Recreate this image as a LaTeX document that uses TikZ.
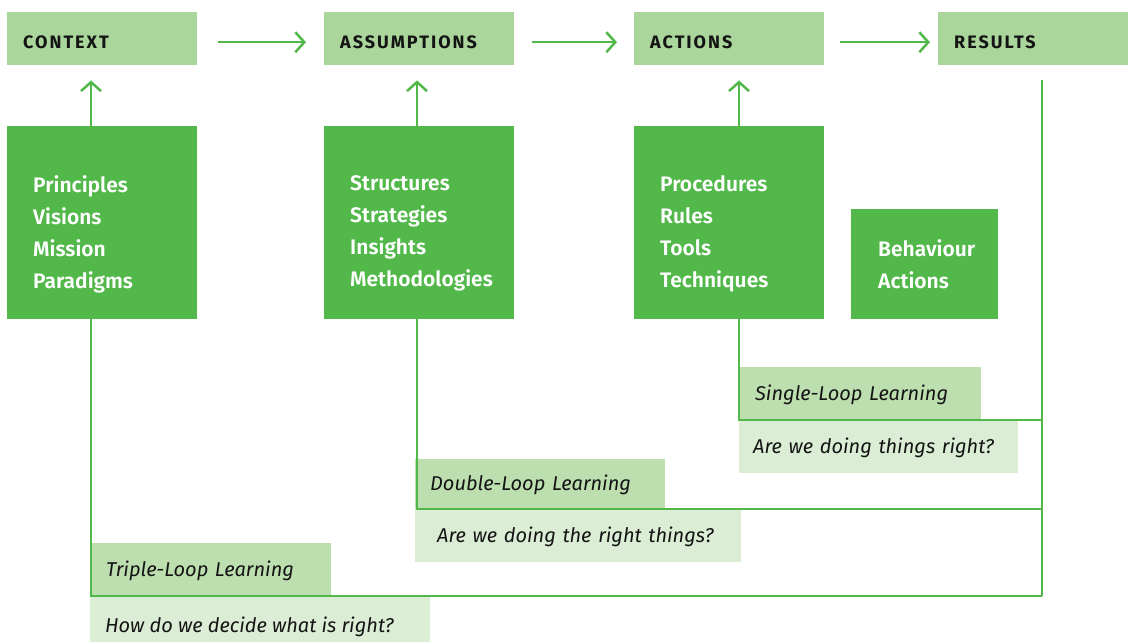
\documentclass[tikz,border=0pt]{standalone}
\usepackage{fontspec}
\setmainfont{Fira Sans}
\newfontfamily\semib{Fira Sans SemiBold}
\usetikzlibrary{arrows.meta}
\definecolor{hdr}{HTML}{AAD69B}
\definecolor{dark}{HTML}{52B84A}
\definecolor{lblA}{HTML}{BDDEAE}
\definecolor{lblB}{HTML}{DCEDD5}
\definecolor{ink}{HTML}{141414}
\begin{document}
\begin{tikzpicture}[x=1pt,y=-1pt,
  hdrbox/.style={fill=hdr, anchor=north west, minimum width=190pt, minimum height=53pt,
    text width=158pt, inner xsep=16pt, inner ysep=0pt, align=left, text=ink,
    text height=19.5pt, text depth=0pt,
    font=\fontsize{18}{20}\selectfont\bfseries\addfontfeatures{LetterSpace=11}},
  darkbox/.style={fill=dark, anchor=north west, minimum width=190pt, minimum height=193pt, inner sep=0pt},
  whitetext/.style={anchor=north west, inner sep=0pt, align=left, text=white,
    font=\semib\fontsize{21}{32}\selectfont},
  lblbox/.style={anchor=north west, minimum height=53pt, inner ysep=0pt, align=left, text=ink,
    text height=17.5pt, text depth=4.5pt,
    font=\itshape\fontsize{20}{24}\selectfont},
  lbltext/.style={anchor=west, inner sep=0pt, text=ink, font=\itshape\fontsize{20}{24}\selectfont},
  loop/.style={draw=dark, line width=2.5pt},
  arr/.style={draw=dark, line width=2.5pt, -{Straight Barb[length=9pt,width=20pt]}}
]
\useasboundingbox (0,0) rectangle (1133,642);

% x positions of the vertical connectors
\coordinate (cx) at (91,0);
\coordinate (bx) at (417,0);
\coordinate (ax) at (739,0);
\coordinate (rx) at (1042,0);
\coordinate (single) at (1042,420);
\coordinate (double) at (1042,509);
\coordinate (triple) at (1042,596);

% header boxes
\node[hdrbox] (context) at (7,12) {CONTEXT};
\node[hdrbox] (assump) at (324,12) {ASSUMPTIONS};
\node[hdrbox] (actions) at (634,12) {ACTIONS};
\node[hdrbox] (results) at (938,12) {RESULTS};

% dark boxes
\node[darkbox] (princ) at (7,126) {};
\node[darkbox] (struct) at (324,126) {};
\node[darkbox] (proc) at (634,126) {};
\node[darkbox, minimum width=147pt, minimum height=110pt] (behav) at (851,209) {};

\node[whitetext] (princT) at (33,175) {Principles\\Visions\\Mission\\Paradigms};
\node[whitetext] (structT) at (350,175) {Structures\\Strategies\\Insights\\Methodologies};
\node[whitetext] (procT) at (660,175) {Procedures\\Rules\\Tools\\Techniques};
\node[whitetext] (behavT) at (878,239) {Behaviour\\Actions};

% label boxes
\node[lblbox, fill=lblA, text width=210pt, inner xsep=16pt] (sll) at (739,367) {Single-Loop Learning};
\node[lblbox, fill=lblB, text width=251pt, inner xsep=14pt] (slq) at (739,420) {Are we doing things right?};
\node[lblbox, fill=lblA, text width=220pt, inner xsep=15pt, minimum height=50pt] (dll) at (415,459) {Double-Loop Learning};
\node[lblbox, fill=lblB, text width=282pt, inner xsep=22pt] (dlq) at (415,509) {Are we doing the right things?};
\node[lblbox, fill=lblA, text width=209pt, inner xsep=16pt] (tll) at (90,543) {Triple-Loop Learning};
\node[lblbox, fill=lblB, minimum width=340pt, minimum height=46pt, inner xsep=0pt] (tlq) at (90,596) {};
\node[lbltext] (tlqT) at (105,627) {How do we decide what is right?};

% horizontal arrows
\draw[arr] ([xshift=21pt,yshift=-3.5pt]context.east) -- ([xshift=-18pt,yshift=-3.5pt]assump.west);
\draw[arr] ([xshift=18pt,yshift=-3.5pt]assump.east) -- ([xshift=-17pt,yshift=-3.5pt]actions.west);
\draw[arr] ([xshift=16pt,yshift=-3.5pt]actions.east) -- ([xshift=-8pt,yshift=-3.5pt]results.west);

% vertical arrows
\draw[arr] (princ.north -| cx) -- ([yshift=-15pt]context.south -| cx);
\draw[arr] (struct.north -| bx) -- ([yshift=-15pt]assump.south -| bx);
\draw[arr] (proc.north -| ax) -- ([yshift=-15pt]actions.south -| ax);

% loops
\draw[loop] ([yshift=-15pt]results.south -| rx) -- (triple);
\draw[loop] (proc.south -| ax) |- (single);
\draw[loop] (struct.south -| bx) |- (double);
\draw[loop] (princ.south -| cx) |- (triple);
\end{tikzpicture}
\end{document}
